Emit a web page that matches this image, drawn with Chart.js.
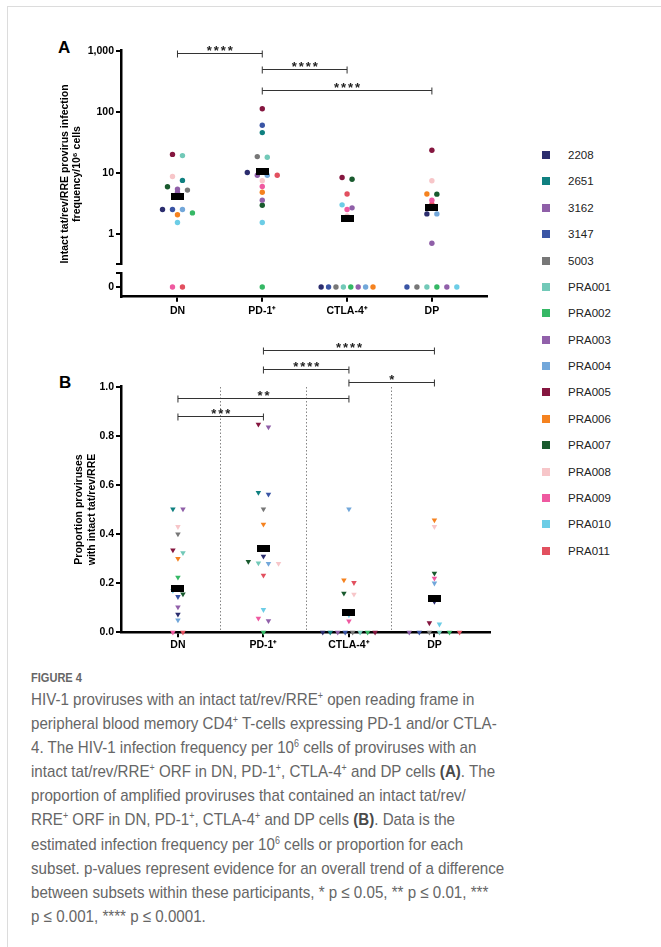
<!DOCTYPE html>
<html>
<head>
<meta charset="utf-8">
<script src="https://cdn.jsdelivr.net/npm/chart.js@4.4.1/dist/chart.umd.min.js"></script>
<style>
  body { margin: 0; width: 661px; height: 947px; background: #fff; position: relative; overflow: hidden;
         font-family: 'Liberation Sans', Arial, sans-serif; }
  .frame { position: absolute; left: 7px; top: 6px; right: -2px; bottom: -2px;
           border-left: 1.5px solid #dcdcdc; border-top: 1.5px solid #dcdcdc; }
  canvas { position: absolute; left: 0; }
  .panel { position: absolute; font-weight: bold; font-size: 17px; color: #000; }
  .sq { position: absolute; width: 8px; height: 8px; }
  .lg { position: absolute; font-size: 11.5px; line-height: 14px; color: #222; }
  .fig { position: absolute; left: 31px; top: 670px; font-size: 13px; line-height: 16px; color: #666;
         font-weight: bold; transform: scaleX(0.85); transform-origin: left top; }
  .cap { position: absolute; left: 31px; top: 688px; font-size: 17px; line-height: 24.1px; color: #666;
         white-space: nowrap; transform: scaleX(0.89); transform-origin: left top; }
  .cap sup { font-size: 10px; line-height: 0; vertical-align: 6px; }
  .cap b { color: #4a4a4a; }
</style>
</head>
<body>
<div class="frame"></div>
<div class="panel" style="left:58px;top:38px">A</div>
<div class="panel" style="left:59px;top:373px">B</div>
<canvas id="chartA" width="500" height="300" style="top:0"></canvas>
<canvas id="chartA0" width="500" height="56" style="top:264px"></canvas>
<canvas id="chartB" width="500" height="330" style="top:320px"></canvas>
<div id="legend"></div>
<div class="fig">FIGURE 4</div>
<div class="cap">
HIV-1 proviruses with an intact tat/rev/RRE<sup>+</sup> open reading frame in<br>
peripheral blood memory CD4<sup>+</sup> T-cells expressing PD-1 and/or CTLA-<br>
4. The HIV-1 infection frequency per 10<sup>6</sup> cells of proviruses with an<br>
intact tat/rev/RRE<sup>+</sup> ORF in DN, PD-1<sup>+</sup>, CTLA-4<sup>+</sup> and DP cells <b>(A)</b>. The<br>
proportion of amplified proviruses that contained an intact tat/rev/<br>
RRE<sup>+</sup> ORF in DN, PD-1<sup>+</sup>, CTLA-4<sup>+</sup> and DP cells <b>(B)</b>. Data is the<br>
estimated infection frequency per 10<sup>6</sup> cells or proportion for each<br>
subset. p-values represent evidence for an overall trend of a difference<br>
between subsets within these participants, * p &le; 0.05, ** p &le; 0.01, ***<br>
p &le; 0.001, **** p &le; 0.0001.
</div>
<script>
const participants = ['2208', '2651', '3162', '3147', '5003', 'PRA001', 'PRA002', 'PRA003',
                      'PRA004', 'PRA005', 'PRA006', 'PRA007', 'PRA008', 'PRA009', 'PRA010', 'PRA011'];
const participantColors = ['#2b2d6e', '#0f8080', '#8f5fa8', '#3a55a5', '#777777', '#72c9b8', '#35b865', '#9160aa',
                           '#72a7da', '#85163f', '#f5821f', '#195a2e', '#f7c6c9', '#ef59a0', '#6ccde6', '#e2505f'];
const subsets = ['DN', 'PD-1\u207A', 'CTLA-4\u207A', 'DP'];

// panel A: intact tat/rev/RRE infection frequency per 10^6 cells (0 = none found, null = not done)
const freqDN    = [2.5, 7.5, 5.4, 2.5, 5.2, 19.1, 2.2, 4.8, 2.5, 20, 2.05, 5.9, 8.7, 0, 1.53, 0];
const freqPD1   = [10.1, 45.5, 9.1, 60, 18.4, 18, 0, 3.56, 9.1, 112, 4.8, 2.94, 7.4, 5.95, 1.53, 9.1];
const freqCTLA4 = [0, null, 2.66, 0, 0, 0, 0, 0, 0, 8.36, 0, 7.85, 1.97, 2.5, 2.98, 4.5];
const freqDP    = [2.12, null, 0.7, 0, 0, 0, 0, 0, 2.12, 23.4, 4.5, 4.46, 7.4, 3.56, 0, 3.06];
const freqMean  = [4.1, 10.5, 1.78, 2.73];
const yTicksA   = [1, 10, 100, 1000];

// panel B: proportion of proviruses with intact tat/rev/RRE
const propDN    = [0.073, 0.502, 0.502, 0.145, 0.40, 0.324, 0.224, 0.103, 0.05, 0.335, 0.30, 0.156, 0.43, 0, 0.17, 0];
const propPD1   = [0.309, 0.569, 0.836, 0.562, 0.502, 0.282, 0, 0.047, 0.28, 0.847, 0.44, 0.288, 0.28, 0.057, 0.092, 0.232];
const propCTLA4 = [0, 0, 0, 0, 0, 0, 0, null, 0.502, 0, 0.213, 0.159, 0.155, 0.046, 0.07, 0.202];
const propDP    = [0.125, null, 0, 0, 0, 0, 0, null, 0.20, 0.038, 0.457, 0.24, 0.43, 0.22, 0.033, 0];
const propMean  = [0.18, 0.34, 0.08, 0.138];
const yTicksB   = [0, 0.2, 0.4, 0.6, 0.8, 1.0];

// significance comparisons [from, to, stars]
const sigA = [[0, 1, '****'], [1, 2, '****'], [1, 3, '****']];
const sigB = [[1, 3, '****'], [1, 2, '****'], [2, 3, '*'], [0, 2, '**'], [0, 1, '***']];

// layout bits
const sigLevelA = [907, 497, 225];
const sigLevelB = [1.149, 1.074, 1.02, 0.955, 0.882];
const X_MIN = -0.666, X_MAX = 3.65, PX_PER_CAT = 85;

const seriesA = [freqDN, freqPD1, freqCTLA4, freqDP];
const seriesB = [propDN, propPD1, propCTLA4, propDP];

// spread points of similar value sideways, like a column scatter
function swarm(arr, toPx) {
  const off = arr.map(() => 0);
  const idx = arr.map((v, i) => i).filter(i => arr[i] !== null);
  const groups = [];
  const zeros = idx.filter(i => arr[i] === 0);
  if (zeros.length) groups.push(zeros);
  let g = null;
  idx.filter(i => arr[i] > 0).sort((a, b) => arr[b] - arr[a]).forEach(i => {
    if (g && Math.abs(toPx(arr[g[0]]) - toPx(arr[i])) < 4) g.push(i);
    else { g = [i]; groups.push(g); }
  });
  groups.forEach(g => {
    const step = g.length > 1 ? Math.min(10, 52 / (g.length - 1)) : 0;
    g.forEach((i, j) => { off[i] = (j - (g.length - 1) / 2) * step / PX_PER_CAT; });
  });
  return off;
}
const offA = seriesA.map(arr => swarm(arr, v => Math.log10(v) * 61.2));
const offB = seriesB.map(arr => swarm(arr, v => v * 245.7));

function meanMarker(w, h) {
  const c = document.createElement('canvas');
  c.width = w; c.height = h;
  const g = c.getContext('2d');
  g.fillStyle = '#000';
  g.fillRect(0, 0, w, h);
  return c;
}

const bracketPlugin = {
  id: 'brackets',
  afterDraw(chart, args, opts) {
    const { ctx, scales: { x, y } } = chart;
    ctx.save();
    (opts.items || []).forEach(b => {
      const x1 = x.getPixelForValue(b.from), x2 = x.getPixelForValue(b.to);
      const yy = Math.round(y.getPixelForValue(b.at)) + 0.5;
      ctx.strokeStyle = '#333';
      ctx.lineWidth = 1;
      ctx.beginPath();
      ctx.moveTo(x1, yy); ctx.lineTo(x2, yy);
      ctx.moveTo(x1, yy - 3); ctx.lineTo(x1, yy + 4);
      ctx.moveTo(x2, yy - 3); ctx.lineTo(x2, yy + 4);
      ctx.stroke();
      ctx.fillStyle = '#222';
      ctx.font = 'bold 13px "Liberation Sans", Arial, sans-serif';
      ctx.textAlign = 'center';
      ctx.textBaseline = 'alphabetic';
      const n = b.stars.length, cx = (x1 + x2) / 2;
      for (let i = 0; i < n; i++) ctx.fillText('*', cx + (i - (n - 1) / 2) * 7, yy + 1.5);
    });
    if (opts.title) {
      ctx.fillStyle = '#000';
      ctx.font = 'bold 10.5px "Liberation Sans", Arial, sans-serif';
      ctx.textAlign = 'center';
      ctx.textBaseline = 'middle';
      opts.title.lines.forEach((t, i) => {
        ctx.save();
        ctx.translate(opts.title.x[i], opts.title.y);
        ctx.rotate(-Math.PI / 2);
        ctx.fillText(t, 0, 0);
        ctx.restore();
      });
    }
    ctx.restore();
  }
};

Chart.defaults.font.family = "'Liberation Sans', Arial, sans-serif";
Chart.defaults.font.size = 10.5;
Chart.defaults.font.weight = 'bold';
Chart.defaults.color = '#000';

const tickGrid = { drawOnChartArea: false, tickLength: 5, color: '#000', lineWidth: 2 };
const axisBorder = { color: '#000', width: 2.5 };

function xAxis(display, pad) {
  return {
    type: 'linear', min: X_MIN, max: X_MAX, bounds: 'data', display,
    afterBuildTicks: s => { s.ticks = subsets.map((_, i) => ({ value: i })); },
    ticks: { callback: v => subsets[v] ?? '', padding: pad, maxRotation: 0 },
    grid: tickGrid, border: axisBorder
  };
}

function participantSets(series, offs, keep, style) {
  return participants.map((p, pi) => ({
    label: p,
    data: series.map((arr, ci) => keep(arr[pi]) ? { x: ci + offs[ci][pi], y: arr[pi] } : null).filter(Boolean),
    backgroundColor: participantColors[pi],
    borderColor: participantColors[pi],
    borderWidth: 0,
    clip: false,
    ...style
  }));
}

const commonPlugins = { legend: { display: false }, tooltip: { enabled: false } };
const dotStyle = { pointRadius: 2.7, pointStyle: 'circle' };
const triStyle = { pointRadius: 3.2, pointStyle: 'triangle', rotation: 180 };

// panel A, upper part (log axis)
new Chart(document.getElementById('chartA'), {
  type: 'scatter',
  data: {
    datasets: [
      { label: 'mean', data: freqMean.map((v, i) => ({ x: i, y: v })), pointStyle: meanMarker(13, 7),
        pointRadius: 6, order: -1, clip: false },
      ...participantSets(seriesA, offA, v => v !== null && v > 0, dotStyle)
    ]
  },
  options: {
    responsive: false, animation: false,
    layout: { padding: { left: 0, top: 50.7, right: 13, bottom: 36 } },
    scales: {
      x: xAxis(false, 3),
      y: {
        type: 'logarithmic', min: 0.32, max: 1000, bounds: 'data',
        afterBuildTicks: s => { s.ticks = [s.min, ...yTicksA].map(value => ({ value })); },
        ticks: { callback: v => yTicksA.includes(v) ? v.toLocaleString('en-US') : '', padding: 2, autoSkip: false },
        grid: tickGrid, border: axisBorder,
        afterFit: s => { s.width = 121; }
      }
    },
    plugins: {
      ...commonPlugins,
      brackets: {
        items: sigA.map((s, i) => ({ from: s[0], to: s[1], stars: s[2], at: sigLevelA[i] })),
        title: { lines: ['Intact tat/rev/RRE provirus infection', 'frequency/10\u2076 cells'], x: [65, 77.5], y: 174 }
      }
    }
  },
  plugins: [bracketPlugin]
});

// panel A, lower part (zero values below the axis break)
new Chart(document.getElementById('chartA0'), {
  type: 'scatter',
  data: { datasets: participantSets(seriesA, offA, v => v === 0, dotStyle) },
  options: {
    responsive: false, animation: false,
    layout: { padding: { left: 0, top: 9, right: 13, bottom: 0 } },
    scales: {
      x: { ...xAxis(true, 3), afterFit: s => { s.height = 23.3; } },
      y: {
        type: 'linear', min: -0.69, max: 1, bounds: 'data',
        afterBuildTicks: s => { s.ticks = [0, 1].map(value => ({ value })); },
        ticks: { callback: v => v === 0 ? '0' : '', padding: 2 },
        grid: tickGrid, border: axisBorder,
        afterFit: s => { s.width = 121; }
      }
    },
    plugins: commonPlugins
  }
});

// panel B
new Chart(document.getElementById('chartB'), {
  type: 'scatter',
  data: {
    datasets: [
      { label: 'mean', data: propMean.map((v, i) => ({ x: i, y: v })), pointStyle: meanMarker(13, 7),
        pointRadius: 6, order: -1, clip: false },
      ...participantSets(seriesB, offB, v => v !== null, triStyle)
    ]
  },
  options: {
    responsive: false, animation: false,
    layout: { padding: { left: 73, top: 66.7, right: 10, bottom: 0 } },
    scales: {
      x: { ...xAxis(true, 2), afterFit: s => { s.height = 17.7; } },
      x2: {
        type: 'linear', position: 'top', min: X_MIN, max: X_MAX, bounds: 'data',
        afterBuildTicks: s => { s.ticks = [0.5, 1.5, 2.5].map(value => ({ value })); },
        ticks: { display: false },
        grid: { drawOnChartArea: true, drawTicks: false, color: '#666', lineWidth: 0.8 },
        border: { display: false, dash: [1.5, 2] },
        afterFit: s => { s.height = 0; }
      },
      y: {
        type: 'linear', min: 0, max: 1, bounds: 'data',
        afterBuildTicks: s => { s.ticks = yTicksB.map(value => ({ value })); },
        ticks: { callback: v => v.toFixed(1), padding: 2 },
        grid: tickGrid, border: axisBorder,
        title: { display: true, text: ['Proportion proviruses', 'with intact tat/rev/RRE'], padding: 0,
                 font: { size: 10.5, weight: 'bold' } },
        afterFit: s => { s.width = 48; }
      }
    },
    plugins: {
      ...commonPlugins,
      brackets: { items: sigB.map((s, i) => ({ from: s[0], to: s[1], stars: s[2], at: sigLevelB[i] })) }
    }
  },
  plugins: [bracketPlugin]
});

// legend
const legend = document.getElementById('legend');
participants.forEach((p, i) => {
  const yc = 155 + i * 26.38;
  const sq = document.createElement('div');
  sq.className = 'sq';
  sq.style.left = '542px';
  sq.style.top = (yc - 4) + 'px';
  sq.style.background = participantColors[i];
  legend.appendChild(sq);
  const t = document.createElement('div');
  t.className = 'lg';
  t.style.left = '568px';
  t.style.top = (yc - 7) + 'px';
  t.textContent = p;
  legend.appendChild(t);
});
</script>
</body>
</html>
